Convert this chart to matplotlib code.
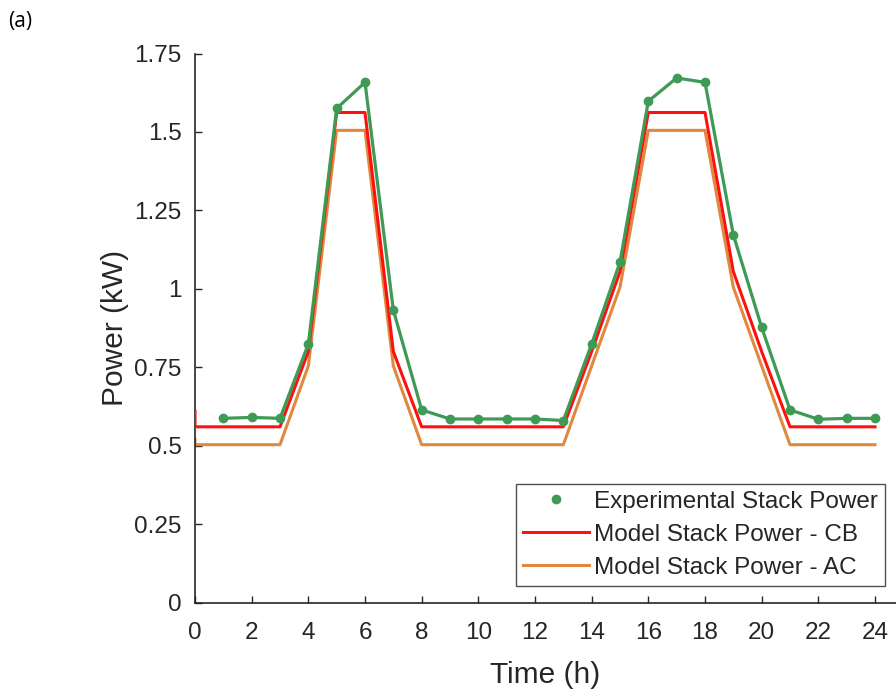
import matplotlib
matplotlib.use("Agg")
import matplotlib.pyplot as plt

# Experimental data (hourly)
exp_hours = [1, 2, 3, 4, 5, 6, 7, 8, 9, 10, 11, 12, 13, 14, 15, 16, 17, 18, 19, 20, 21, 22, 23, 24]
exp_power = [0.587, 0.59, 0.587, 0.824, 1.575, 1.658, 0.932, 0.614, 0.585, 0.585, 0.585, 0.585, 0.58,
             0.824, 1.085, 1.598, 1.672, 1.658, 1.172, 0.877, 0.614, 0.584, 0.587, 0.587]

# Model data
model_hours = [0, 0, 1, 2, 3, 4, 5, 6, 7, 8, 9, 10, 11, 12, 13, 14, 15, 16, 17, 18, 19, 20, 21, 22, 23, 24]
model_cb = [0.61, 0.56, 0.56, 0.56, 0.56, 0.80, 1.562, 1.562, 0.80, 0.56, 0.56, 0.56, 0.56, 0.56, 0.56,
            0.80, 1.055, 1.562, 1.562, 1.562, 1.055, 0.80, 0.56, 0.56, 0.56, 0.56]
model_ac = [0.52, 0.503, 0.503, 0.503, 0.503, 0.754, 1.505, 1.505, 0.754, 0.503, 0.503, 0.503, 0.503, 0.503, 0.503,
            0.754, 1.005, 1.505, 1.505, 1.505, 1.005, 0.754, 0.503, 0.503, 0.503, 0.503]

x_ticks = [0, 2, 4, 6, 8, 10, 12, 14, 16, 18, 20, 22, 24]
y_ticks = [0, 0.25, 0.5, 0.75, 1, 1.25, 1.5, 1.75]
y_ticklabels = ["0", "0.25", "0.5", "0.75", "1", "1.25", "1.5", "1.75"]

GREEN = "#3e9a55"
RED = "#ff1010"
ORANGE = "#e0893e"
AX = "#262626"

plt.rcParams['font.family'] = ['Liberation Sans', 'DejaVu Sans']

W, H = 896, 689
fig = plt.figure(figsize=(W / 100, H / 100), dpi=100)
left, right, bottom, top = 195, 896, 602.5, 53.5
ax = fig.add_axes([left / W, 1 - bottom / H, (right - left) / W, (bottom - top) / H])

x_per_h = (875 - 195) / 24.0
ax.set_xlim(0, (right - left) / x_per_h)
ax.set_ylim(0, 1.75)

ax.plot(exp_hours, exp_power, color=GREEN, lw=2.3, zorder=4)
ax.plot(exp_hours, exp_power, 'o', color=GREEN, ms=6, zorder=5, label="Experimental Stack Power")
ax.plot(model_hours, model_cb, color=RED, lw=2.2, zorder=3, label="Model Stack Power - CB")
ax.plot(model_hours, model_ac, color=ORANGE, lw=2.2, zorder=2, label="Model Stack Power - AC")

ax.set_xticks(x_ticks)
ax.set_yticks(y_ticks)
ax.set_yticklabels(y_ticklabels)
ax.tick_params(direction='in', length=5, width=1.0, color=AX, labelcolor=AX, labelsize=17.5)
ax.tick_params(axis='x', pad=14)
ax.tick_params(axis='y', pad=9.5)
for s in ['top', 'right']:
    ax.spines[s].set_visible(False)
for s in ['left', 'bottom']:
    ax.spines[s].set_color(AX)
    ax.spines[s].set_linewidth(1.2)

ax.set_xlabel("Time (h)", fontsize=21.5, color=AX, labelpad=12)
ax.set_ylabel("Power (kW)", fontsize=21.5, color=AX, labelpad=4)

leg = ax.legend(loc='lower right', bbox_to_anchor=(885 / W, 1 - 586 / H), bbox_transform=fig.transFigure,
                borderaxespad=0, fontsize=17.5, frameon=True, fancybox=False, edgecolor=AX,
                handlelength=2.7, handletextpad=0.2, labelspacing=0.45, borderpad=0.3)
leg.get_frame().set_linewidth(1.0)
for t in leg.get_texts():
    t.set_color(AX)

fig.text(8 / W, 1 - 22 / H, "(a)", fontsize=15, color='black', va='center', ha='left',
         family=['Open Sans', 'DejaVu Sans'])

fig.savefig("out.png", dpi=100)
